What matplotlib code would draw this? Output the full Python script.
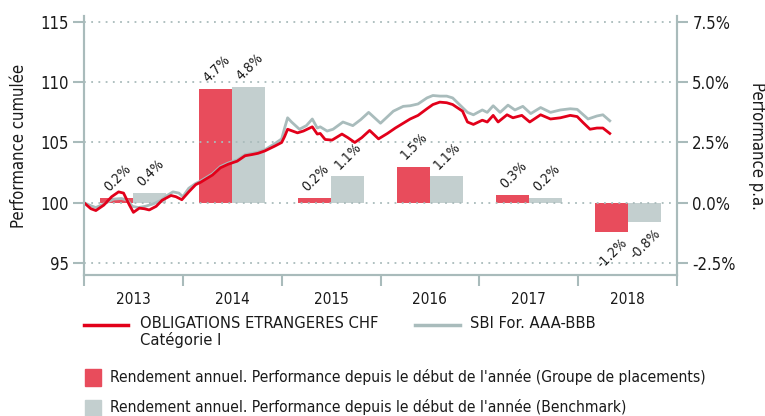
import numpy as np
import matplotlib
matplotlib.use("Agg")
import matplotlib.pyplot as plt
from matplotlib.lines import Line2D
from matplotlib.patches import Rectangle

# Cumulative performance (index, start = 100), time in decimal years
fund_t = [2013.00, 2013.07, 2013.12, 2013.20, 2013.28, 2013.35, 2013.40, 2013.46, 2013.50,
          2013.56, 2013.61, 2013.66, 2013.73, 2013.79, 2013.88, 2013.93, 2013.99, 2014.06,
          2014.13, 2014.18, 2014.22, 2014.30, 2014.38, 2014.46, 2014.55, 2014.63, 2014.70,
          2014.76, 2014.83, 2014.93, 2015.00, 2015.03, 2015.06, 2015.16, 2015.22, 2015.31,
          2015.36, 2015.39, 2015.44, 2015.51, 2015.61, 2015.67, 2015.74, 2015.81, 2015.89,
          2015.98, 2016.07, 2016.15, 2016.23, 2016.30, 2016.38, 2016.47, 2016.53, 2016.60,
          2016.67, 2016.73, 2016.83, 2016.88, 2016.94, 2017.03, 2017.08, 2017.14, 2017.19,
          2017.28, 2017.34, 2017.43, 2017.51, 2017.62, 2017.72, 2017.82, 2017.92, 2017.99,
          2018.05, 2018.12, 2018.19, 2018.25, 2018.32]
fund_v = [100.0, 99.5, 99.35, 99.8, 100.5, 100.9, 100.8, 99.8, 99.2,
          99.55, 99.5, 99.4, 99.7, 100.2, 100.6, 100.5, 100.25, 100.9,
          101.5, 101.7, 101.9, 102.3, 102.9, 103.2, 103.45, 103.9, 104.0,
          104.1, 104.3, 104.7, 105.0, 105.5, 106.1, 105.8, 105.95, 106.3,
          105.7, 105.75, 105.25, 105.2, 105.7, 105.4, 105.0, 105.4, 106.0,
          105.3, 105.75, 106.2, 106.6, 106.95, 107.25, 107.8, 108.15, 108.35,
          108.3, 108.15, 107.6, 106.7, 106.5, 106.85, 106.7, 107.25, 106.7,
          107.3, 107.05, 107.25, 106.7, 107.3, 106.95, 107.05, 107.25, 107.15,
          106.65, 106.1, 106.2, 106.2, 105.75]

bench_t = [2013.00, 2013.07, 2013.12, 2013.20, 2013.30, 2013.38, 2013.44, 2013.49, 2013.55,
           2013.62, 2013.70, 2013.78, 2013.84, 2013.90, 2013.96, 2014.00, 2014.06, 2014.13,
           2014.18, 2014.22, 2014.30, 2014.38, 2014.46, 2014.55, 2014.63, 2014.70, 2014.76,
           2014.83, 2014.93, 2015.00, 2015.03, 2015.06, 2015.10, 2015.18, 2015.25, 2015.31,
           2015.36, 2015.39, 2015.46, 2015.52, 2015.62, 2015.72, 2015.80, 2015.88, 2016.00,
           2016.13, 2016.23, 2016.30, 2016.38, 2016.47, 2016.53, 2016.60, 2016.67, 2016.73,
           2016.88, 2016.94, 2017.03, 2017.08, 2017.14, 2017.21, 2017.29, 2017.36, 2017.44,
           2017.52, 2017.62, 2017.72, 2017.82, 2017.92, 2017.99, 2018.10, 2018.19, 2018.25,
           2018.32]
bench_v = [100.0, 99.75, 99.6, 99.9, 100.3, 100.35, 100.2, 99.7, 99.6,
           99.7, 99.9, 100.2, 100.6, 100.9, 100.8, 100.5, 101.2, 101.6,
           101.8, 102.0, 102.4, 103.0, 103.3, 103.55, 104.0, 104.1, 104.2,
           104.4, 104.9, 105.3, 106.2, 107.05, 106.7, 106.1, 106.4, 106.95,
           106.2, 106.3, 105.95, 106.1, 106.7, 106.4, 106.9, 107.5, 106.6,
           107.6, 108.0, 108.05, 108.2, 108.7, 108.9, 108.85, 108.85, 108.7,
           107.5, 107.3, 107.7, 107.5, 108.05, 107.5, 108.1, 107.7, 108.0,
           107.4, 107.9, 107.5, 107.7, 107.8, 107.75, 106.95, 107.2, 107.3,
           106.8]

# Annual returns in %
years = [2013, 2014, 2015, 2016, 2017, 2018]
fund_ret = [0.2, 4.7, 0.2, 1.5, 0.3, -1.2]
bench_ret = [0.4, 4.8, 1.1, 1.1, 0.2, -0.8]

fund_name = "OBLIGATIONS ETRANGERES CHF\nCatégorie I"
bench_name = "SBI For. AAA-BBB"
bar_fund_name = "Rendement annuel. Performance depuis le début de l'année (Groupe de placements)"
bar_bench_name = "Rendement annuel. Performance depuis le début de l'année (Benchmark)"

red_line = "#e2001a"
red_bar = "#e84c5c"
grey_line = "#a9bcbc"
grey_bar = "#c3cfcf"
axis_col = "#a9bbbb"
txt = "#1a1a1a"

plt.rcParams['font.family'] = ['DejaVu Sans']
plt.rcParams['font.stretch'] = 'condensed'

fig = plt.figure(figsize=(7.65, 4.16), dpi=100)
ax = fig.add_axes([84 / 765, 1 - 275 / 416, (677 - 84) / 765, (275 - 16) / 416])
ax2 = ax.twinx()

# bars on the right (percent) axis
x = np.array(years) + 0.5
w = 1 / 3
ax2.bar(x - w / 2, fund_ret, width=w, color=red_bar, zorder=2)
ax2.bar(x + w / 2, bench_ret, width=w, color=grey_bar, zorder=2)
for xi, fr, br in zip(x, fund_ret, bench_ret):
    for left, val in [(xi - w, fr), (xi, br)]:
        lab = f"{val:.1f}%"
        if val >= 0:
            ax2.annotate(lab, (left, val), xytext=(8, 3), textcoords='offset points',
                         rotation=45, rotation_mode='anchor', ha='left', va='bottom',
                         fontsize=10, color=txt)
        else:
            ax2.annotate(lab, (left + w, val), xytext=(-5, -3), textcoords='offset points',
                         rotation=45, rotation_mode='anchor', ha='right', va='top',
                         fontsize=10, color=txt)

# lines on the left axis, drawn above bars
ax.set_zorder(ax2.get_zorder() + 1)
ax.patch.set_visible(False)
ax.plot(bench_t, bench_v, color=grey_line, lw=2)
ax.plot(fund_t, fund_v, color=red_line, lw=2)

ax.set_xlim(2013, 2019)
ax.set_ylim(94, 115.5)
ax2.set_ylim(-3, 7.75)

ax.set_yticks([95, 100, 105, 110, 115])
ax2.set_yticks([-2.5, 0, 2.5, 5, 7.5])
ax2.set_yticklabels(["-2.5%", "0.0%", "2.5%", "5.0%", "7.5%"])
for yv in [95, 100, 105, 110, 115]:
    ax.axhline(yv, color=axis_col, lw=1.3, ls=(0, (1, 3)), zorder=0)

ax.set_xticks(range(2013, 2020))
ax.set_xticklabels([])
ax.set_xticks(np.array(years) + 0.5, minor=True)
ax.set_xticklabels([str(y) for y in years], minor=True)
ax.tick_params(axis='x', which='minor', length=0, pad=12, labelsize=11, labelcolor=txt)
ax.tick_params(axis='x', which='major', length=8, width=1.5, color=axis_col)
ax.tick_params(axis='y', length=8, width=1.5, color=axis_col, labelsize=12, labelcolor=txt, pad=3)
ax2.tick_params(axis='y', length=8, width=1.5, color=axis_col, labelsize=12, labelcolor=txt, pad=3)

for a in (ax, ax2):
    for s in a.spines.values():
        s.set_color(axis_col)
        s.set_linewidth(1.5)
ax.spines['top'].set_visible(False)
ax2.spines['top'].set_visible(False)

ax.set_ylabel("Performance cumulée", fontsize=12, color=txt, labelpad=9)
ax2.set_ylabel("Performance p.a.", fontsize=12, color=txt, rotation=-90, labelpad=22)

# legend below the chart
fig.add_artist(Line2D([84 / 765, 128 / 765], [1 - 325 / 416] * 2, color=red_line, lw=2.5))
fig.text(140 / 765, 1 - 316 / 416, fund_name, fontsize=11.8, color=txt, va='top', linespacing=1.05)
fig.add_artist(Line2D([415 / 765, 460 / 765], [1 - 325 / 416] * 2, color=grey_line, lw=2.5))
fig.text(470 / 765, 1 - 316 / 416, bench_name, fontsize=11.8, color=txt, va='top')
fig.add_artist(Rectangle((85 / 765, 1 - 386 / 416), 16 / 765, 17 / 416, color=red_bar))
fig.text(110 / 765, 1 - 377 / 416, bar_fund_name, fontsize=11.2, color=txt, va='center')
fig.add_artist(Rectangle((85 / 765, 1 - 416 / 416), 16 / 765, 16 / 416, color=grey_bar))
fig.text(110 / 765, 1 - 407 / 416, bar_bench_name, fontsize=11.2, color=txt, va='center')

fig.savefig("out.png", dpi=100)
